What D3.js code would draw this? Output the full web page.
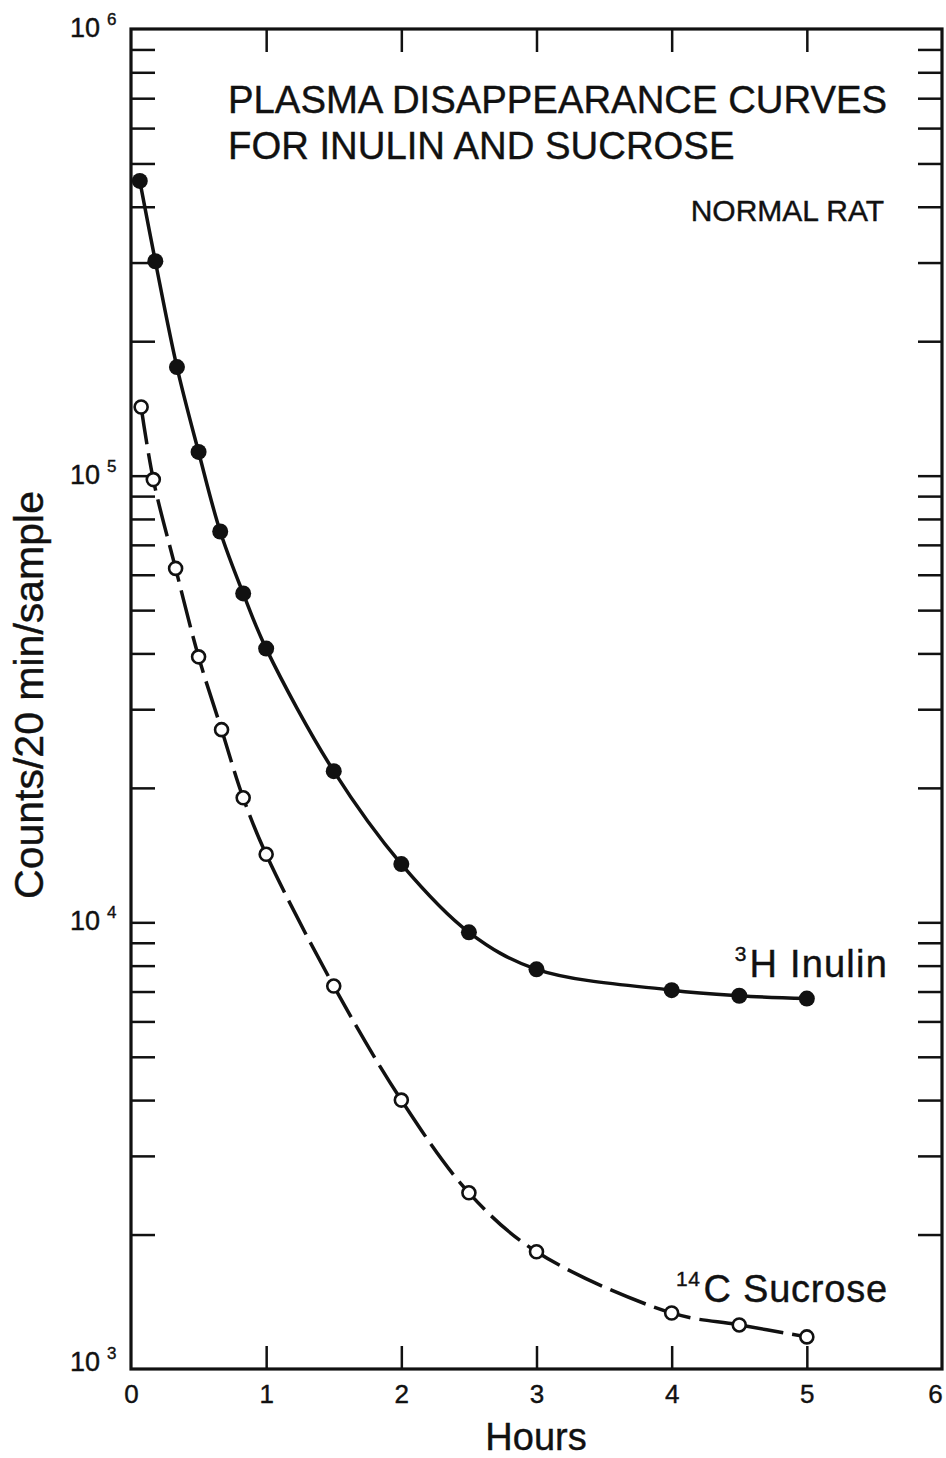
<!DOCTYPE html>
<html>
<head>
<meta charset="utf-8">
<script src="https://cdn.jsdelivr.net/npm/d3@7"></script>
<style>
  html, body { margin: 0; padding: 0; background: #fff; }
  svg { display: block; }
  text { font-family: "Liberation Sans", Arial, Helvetica, sans-serif; fill: #111; stroke: #111; stroke-width: 0.4; }
</style>
</head>
<body>
<div id="chart"></div>
<script>
// Sampling times (hours) and plasma counts for each tracer
const inulinHours = [0.065, 0.18, 0.34, 0.5, 0.66, 0.83, 1, 1.5, 2, 2.5, 3, 4, 4.5, 5];
const inulinCounts = [457000, 302000, 175000, 113000, 75000, 54500, 41000, 21800, 13500, 9500, 7850, 7050, 6850, 6750];

const sucroseHours = [0.075, 0.165, 0.33, 0.5, 0.67, 0.83, 1, 1.5, 2, 2.5, 3, 4, 4.5, 5];
const sucroseCounts = [142500, 98000, 62000, 39300, 27000, 19000, 14200, 7200, 4000, 2480, 1830, 1335, 1255, 1180];

const xTicks = [0, 1, 2, 3, 4, 5, 6];
const decadeExponents = [3, 4, 5, 6];

const W = 946, H = 1458;
const x = d3.scaleLinear().domain([0, 6]).range([131, 942]);
const y = d3.scaleLog().domain([1e3, 1e6]).range([1369, 29]);

const svg = d3.select("#chart").append("svg")
  .attr("width", W).attr("height", H);

// minor/major log tick values between 10^3 and 10^6
const logTicks = [];
for (let e = 3; e < 6; e++) {
  for (let m = 1; m <= 9; m++) {
    const v = m * Math.pow(10, e);
    if (v > 1e3) logTicks.push(v);
  }
}

const ink = "#111";

// inward ticks on all four sides
const axLeft = svg.append("g").attr("transform", `translate(${x(0)},0)`)
  .call(d3.axisLeft(y).tickValues(logTicks).tickSize(-24).tickFormat(""));
const axRight = svg.append("g").attr("transform", `translate(${x(6)},0)`)
  .call(d3.axisRight(y).tickValues(logTicks).tickSize(-24).tickFormat(""));
const axTop = svg.append("g").attr("transform", `translate(0,${y(1e6)})`)
  .call(d3.axisTop(x).tickValues([1, 2, 3, 4, 5]).tickSize(-23).tickFormat(""));
const axBottom = svg.append("g").attr("transform", `translate(0,${y(1e3)})`)
  .call(d3.axisBottom(x).tickValues(xTicks).tickSize(-23).tickPadding(16).tickFormat(d3.format("d")));

[axLeft, axRight, axTop, axBottom].forEach(g => {
  g.select(".domain").remove();
  g.selectAll(".tick line").attr("stroke", ink).attr("stroke-width", 2.5);
});
axBottom.selectAll(".tick text")
  .attr("font-size", 26).attr("fill", ink)
  .style("font-family", '"Liberation Sans", Arial, sans-serif');
axBottom.selectAll(".tick").filter(d => d === 0 || d === 6).select("line").remove();
// last label sits against the page edge
axBottom.selectAll(".tick").filter(d => d === 6).select("text").attr("dx", -7);

// frame
svg.append("rect")
  .attr("x", x(0)).attr("y", y(1e6))
  .attr("width", x(6) - x(0)).attr("height", y(1e3) - y(1e6))
  .attr("fill", "none").attr("stroke", ink).attr("stroke-width", 3.2);

// decade labels 10^n
decadeExponents.forEach(e => {
  const yy = y(Math.pow(10, e)) + (e === 3 ? 2 : 8);
  svg.append("text").attr("x", 100).attr("y", yy)
    .attr("text-anchor", "end").attr("font-size", 27).text("10");
  svg.append("text").attr("x", 107).attr("y", yy - 12)
    .attr("font-size", 17).text(e);
});

// axis titles
svg.append("text").attr("x", 536).attr("y", 1450)
  .attr("text-anchor", "middle").attr("font-size", 38).text("Hours");
svg.append("text")
  .attr("transform", "translate(43,695) rotate(-90)")
  .attr("text-anchor", "middle").attr("font-size", 41).text("Counts/20 min/sample");

// chart heading
svg.append("text").attr("x", 228).attr("y", 113).attr("font-size", 38.3)
  .text("PLASMA DISAPPEARANCE CURVES");
svg.append("text").attr("x", 228).attr("y", 159).attr("font-size", 38.3)
  .text("FOR INULIN AND SUCROSE");
svg.append("text").attr("x", 884).attr("y", 221).attr("text-anchor", "end")
  .attr("font-size", 30).text("NORMAL RAT");

// curves
const line = d3.line()
  .x(d => x(d[0])).y(d => y(d[1]))
  .curve(d3.curveCatmullRom.alpha(0.5));

const inulin = inulinHours.map((h, i) => [h, inulinCounts[i]]);
const sucrose = sucroseHours.map((h, i) => [h, sucroseCounts[i]]);

svg.append("path").datum(inulin).attr("d", line)
  .attr("fill", "none").attr("stroke", ink).attr("stroke-width", 3.5);
svg.append("path").datum(sucrose).attr("d", line)
  .attr("fill", "none").attr("stroke", ink).attr("stroke-width", 3.5)
  .attr("stroke-dasharray", "38,9");

svg.append("g").selectAll("circle").data(inulin).join("circle")
  .attr("cx", d => x(d[0])).attr("cy", d => y(d[1])).attr("r", 8)
  .attr("fill", ink);
svg.append("g").selectAll("circle").data(sucrose).join("circle")
  .attr("cx", d => x(d[0])).attr("cy", d => y(d[1])).attr("r", 6.5)
  .attr("fill", "#fff").attr("stroke", ink).attr("stroke-width", 2.6);

// curve labels
const lab1 = svg.append("text").attr("x", 888).attr("y", 977).attr("text-anchor", "end");
lab1.append("tspan").attr("font-size", 21).attr("dy", -16).attr("dx", 0).text("3");
lab1.append("tspan").attr("font-size", 38).attr("dy", 16).attr("dx", 3)
  .attr("letter-spacing", 1.2).text("H Inulin");

const lab2 = svg.append("text").attr("x", 888).attr("y", 1302).attr("text-anchor", "end");
lab2.append("tspan").attr("font-size", 21).attr("dy", -16).attr("letter-spacing", 0.5).text("14");
lab2.append("tspan").attr("font-size", 38).attr("dy", 16).attr("dx", 3)
  .attr("letter-spacing", 0.8).text("C Sucrose");
</script>
</body>
</html>
